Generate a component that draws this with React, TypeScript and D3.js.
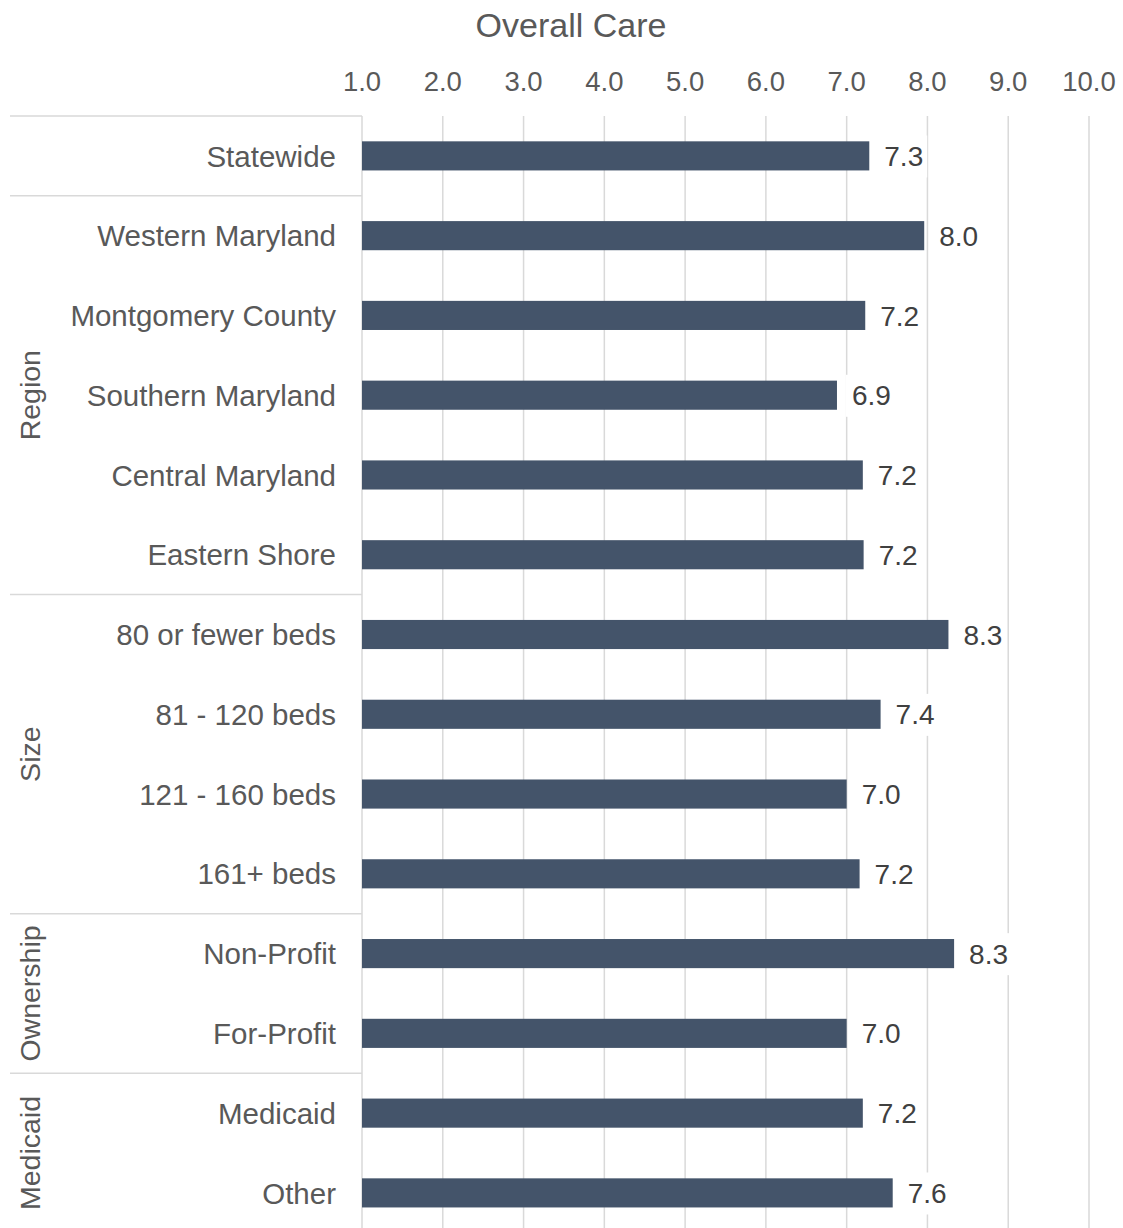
import { useEffect, useRef } from 'react';
import * as d3 from 'd3';

const categories = [
  'Statewide',
  'Western Maryland',
  'Montgomery County',
  'Southern Maryland',
  'Central Maryland',
  'Eastern Shore',
  '80 or fewer beds',
  '81 - 120 beds',
  '121 - 160 beds',
  '161+ beds',
  'Non-Profit',
  'For-Profit',
  'Medicaid',
  'Other',
];
const rowGroups = ['', 'Region', 'Region', 'Region', 'Region', 'Region', 'Size', 'Size', 'Size', 'Size', 'Ownership', 'Ownership', 'Medicaid', 'Medicaid'];
const overallCare = [7.28, 7.96, 7.23, 6.88, 7.2, 7.21, 8.26, 7.42, 7.0, 7.16, 8.33, 7.0, 7.2, 7.57];
const tickValues = [1, 2, 3, 4, 5, 6, 7, 8, 9, 10];
const title = 'Overall Care';

export default function App() {
  const svgRef = useRef<SVGSVGElement>(null);

  useEffect(() => {
    const width = 1123;
    const height = 1228;
    const top = 116;
    const rowH = 79.77;
    const left = 362;
    const right = 1089;
    const font = 'Arial, "Liberation Sans", sans-serif';

    const svg = d3.select(svgRef.current)
      .attr('width', width)
      .attr('height', height);
    svg.selectAll('*').remove();

    const x = d3.scaleLinear().domain([1, 10]).range([left, right]);
    const y = d3.scaleBand<string>()
      .domain(categories)
      .range([top, top + rowH * categories.length])
      .paddingInner(0.635)
      .paddingOuter(0.3175);

    // gridlines
    svg.append('g')
      .selectAll('line')
      .data(tickValues)
      .join('line')
      .attr('x1', d => x(d))
      .attr('x2', d => x(d))
      .attr('y1', top)
      .attr('y2', height)
      .attr('stroke', '#d9d9d9')
      .attr('stroke-width', 1.5);

    // group separators
    const sepIdx = [0, ...rowGroups.map((g, i) => (i > 0 && g !== rowGroups[i - 1] ? i : -1)).filter(i => i > 0)];
    svg.append('g')
      .selectAll('line')
      .data(sepIdx)
      .join('line')
      .attr('x1', 10)
      .attr('x2', left)
      .attr('y1', i => top + i * rowH)
      .attr('y2', i => top + i * rowH)
      .attr('stroke', '#d9d9d9')
      .attr('stroke-width', 1.5);

    // bars
    svg.append('g')
      .selectAll('rect')
      .data(categories)
      .join('rect')
      .attr('x', x(1))
      .attr('y', d => y(d)!)
      .attr('width', (d, i) => x(overallCare[i]) - x(1))
      .attr('height', y.bandwidth())
      .attr('fill', '#44546a');

    // value labels with white boxes
    const lab = svg.append('g')
      .selectAll('g')
      .data(categories)
      .join('g');
    const labText = lab.append('text')
      .attr('x', (d, i) => x(overallCare[i]) + 15)
      .attr('y', d => y(d)! + y.bandwidth() / 2)
      .attr('dy', '0.36em')
      .attr('font-family', font)
      .attr('font-size', 28)
      .attr('fill', '#404040')
      .text((d, i) => overallCare[i].toFixed(1));
    labText.each(function () {
      const bb = (this as SVGTextElement).getBBox();
      const cy = bb.y + bb.height / 2;
      d3.select((this as SVGTextElement).parentNode as SVGGElement)
        .insert('rect', 'text')
        .attr('x', bb.x - 6)
        .attr('y', cy - 21)
        .attr('width', bb.width + 10)
        .attr('height', 42)
        .attr('fill', '#fff');
    });

    // category labels
    svg.append('g')
      .selectAll('text')
      .data(categories)
      .join('text')
      .attr('x', 336)
      .attr('y', d => y(d)! + y.bandwidth() / 2)
      .attr('dy', '0.36em')
      .attr('text-anchor', 'end')
      .attr('font-family', font)
      .attr('font-size', 29.5)
      .attr('fill', '#595959')
      .text(d => d);

    // group labels
    const groups = Array.from(d3.group(rowGroups.map((g, i) => ({ g, i })).filter(r => r.g), r => r.g),
      ([name, rows]) => ({ name, first: rows[0].i, last: rows[rows.length - 1].i }));
    svg.append('g')
      .selectAll('text')
      .data(groups)
      .join('text')
      .attr('transform', d => `translate(39.5,${top + (d.first + d.last + 1) / 2 * rowH}) rotate(-90)`)
      .attr('text-anchor', 'middle')
      .attr('font-family', font)
      .attr('font-size', 28.5)
      .attr('fill', '#595959')
      .text(d => d.name);

    // top axis tick labels
    svg.append('g')
      .selectAll('text')
      .data(tickValues)
      .join('text')
      .attr('x', d => x(d))
      .attr('y', 91)
      .attr('text-anchor', 'middle')
      .attr('font-family', font)
      .attr('font-size', 27.5)
      .attr('fill', '#595959')
      .text(d => d.toFixed(1));

    svg.append('text')
      .attr('x', 571)
      .attr('y', 37)
      .attr('text-anchor', 'middle')
      .attr('font-family', font)
      .attr('font-size', 34)
      .attr('fill', '#595959')
      .text(title);
  }, []);

  return (
    <div style={{ position: 'absolute', left: 0, top: 0, width: 1123, height: 1228, background: '#fff' }}>
      <svg ref={svgRef} style={{ display: 'block' }}></svg>
    </div>
  );
}
